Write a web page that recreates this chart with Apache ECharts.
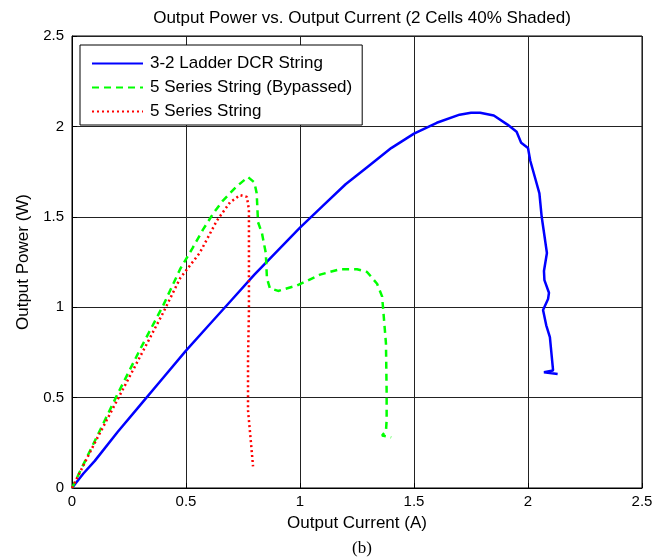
<!DOCTYPE html>
<html><head><meta charset="utf-8">
<script src="https://cdn.jsdelivr.net/npm/echarts@6/dist/echarts.min.js"></script>
<style>html,body{margin:0;padding:0;background:#fff}#c{width:669px;height:558px}</style>
</head><body><div id="c"></div>
<script>
const xTicks = [0, 0.5, 1, 1.5, 2, 2.5];
const yTicks = [0, 0.5, 1, 1.5, 2, 2.5];
const seriesNames = ['3-2 Ladder DCR String', '5 Series String (Bypassed)', '5 Series String'];

const ladderI = [0,0.05,0.1,0.2,0.3,0.4,0.5,0.6,0.7,0.8,0.9,1.0,1.1,1.2,1.3,1.4,1.5,1.6,1.7,1.75,1.79,1.85,1.91,1.95,1.97,2.0,2.01,2.03,2.05,2.06,2.075,2.083,2.07,2.072,2.092,2.088,2.066,2.08,2.096,2.11,2.07,2.13];
const ladderP = [0,0.08,0.15,0.31,0.46,0.61,0.76,0.9,1.04,1.18,1.31,1.44,1.56,1.68,1.78,1.88,1.96,2.02,2.065,2.075,2.075,2.06,2.01,1.97,1.91,1.88,1.81,1.72,1.63,1.50,1.37,1.30,1.20,1.15,1.08,1.045,0.985,0.9,0.835,0.65,0.64,0.63];

const bypI = [0,0.1,0.2,0.3,0.4,0.474,0.53,0.575,0.62,0.662,0.724,0.772,0.80,0.81,0.816,0.833,0.85,0.855,0.868,0.904,0.987,1.088,1.175,1.25,1.294,1.338,1.36,1.364,1.377,1.38,1.38,1.377,1.36,1.40];
const bypP = [0,0.26,0.52,0.77,1.01,1.21,1.33,1.43,1.52,1.59,1.67,1.72,1.69,1.63,1.47,1.41,1.30,1.16,1.105,1.09,1.12,1.18,1.21,1.21,1.195,1.13,1.06,1.0,0.80,0.525,0.375,0.315,0.29,0.28];

const seriesI = [0,0.1,0.2,0.3,0.4,0.474,0.56,0.636,0.693,0.737,0.767,0.776,0.776,0.776,0.772,0.772,0.785,0.794];
const seriesP = [0,0.25,0.49,0.73,0.97,1.16,1.30,1.48,1.58,1.62,1.61,1.54,1.26,0.985,0.71,0.43,0.25,0.12];

const zip = (a, b) => a.map((v, i) => [v, b[i]]);
const font = 'Liberation Sans, Arial, sans-serif';
const chart = echarts.init(document.getElementById('c'), null, {renderer: 'canvas'});
const axisCommon = {
  type: 'value', min: 0, max: 2.5, interval: 0.5,
  axisLine: {show: true, lineStyle: {color: '#000', width: 1}},
  axisTick: {show: true, inside: true, length: 5, lineStyle: {color: '#000'}},
  splitLine: {show: true, lineStyle: {color: '#222', width: 1}},
  axisLabel: {color: '#000', fontSize: 15, fontFamily: font, formatter: v => String(v)},
  nameLocation: 'middle',
  nameTextStyle: {color: '#000', fontSize: 17, fontFamily: font}
};
chart.setOption({
  animation: false,
  backgroundColor: '#fff',
  title: [
    {text: 'Output Power vs. Output Current (2 Cells 40% Shaded)', left: 357, top: 5, textAlign: 'center',
     textStyle: {fontSize: 17, fontWeight: 'normal', color: '#000', fontFamily: font}},
    {text: '(b)', left: 357, top: 535, textAlign: 'center',
     textStyle: {fontSize: 17, fontWeight: 'normal', color: '#000', fontFamily: 'Liberation Serif, serif'}}
  ],
  grid: {left: 72, right: 27, top: 36, bottom: 70, show: true, borderColor: '#000', borderWidth: 1, backgroundColor: 'transparent'},
  xAxis: Object.assign({}, axisCommon, {name: 'Output Current (A)', nameGap: 27, axisLabel: Object.assign({}, axisCommon.axisLabel, {margin: 6})}),
  yAxis: Object.assign({}, axisCommon, {name: 'Output Power (W)', nameGap: 39, axisLabel: Object.assign({}, axisCommon.axisLabel, {margin: 8})}),
  legend: {
    orient: 'vertical', left: 80, top: 45, data: seriesNames,
    backgroundColor: '#fff', borderColor: '#000', borderWidth: 1,
    padding: [10, 10, 5, 11], itemWidth: 51, itemHeight: 12, itemGap: 7,
    itemStyle: {opacity: 0},
    textStyle: {fontSize: 17, color: '#000', fontFamily: font, padding: [0, 0, 0, 2]}
  },
  series: [
    {name: seriesNames[0], type: 'line', data: zip(ladderI, ladderP), showSymbol: false, symbol: 'none',
     lineStyle: {color: '#0000ff', width: 2.5}, itemStyle: {color: '#0000ff'}},
    {name: seriesNames[1], type: 'line', data: zip(bypI, bypP), showSymbol: false, symbol: 'none',
     lineStyle: {color: '#00ff00', width: 2.5, type: [7, 5]}, itemStyle: {color: '#00ff00'}},
    {name: seriesNames[2], type: 'line', data: zip(seriesI, seriesP), showSymbol: false, symbol: 'none',
     lineStyle: {color: '#ff0000', width: 2.5, type: [2, 3]}, itemStyle: {color: '#ff0000'}}
  ]
});
</script></body></html>
